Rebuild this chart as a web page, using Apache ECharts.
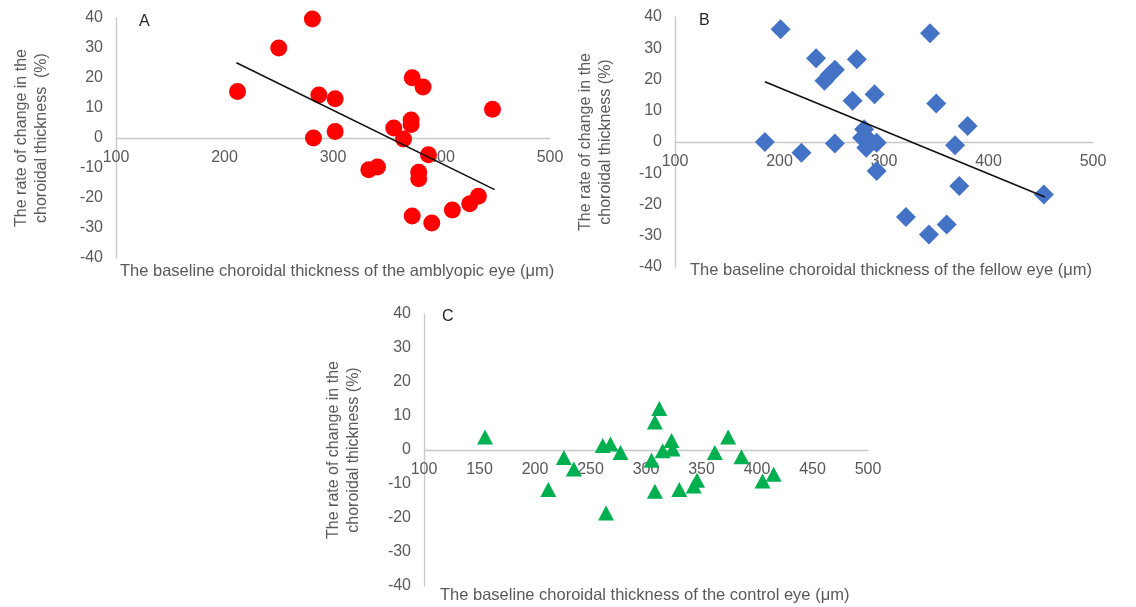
<!DOCTYPE html>
<html>
<head>
<meta charset="utf-8">
<script src="https://cdn.jsdelivr.net/npm/echarts@6/dist/echarts.min.js"></script>
<style>
html,body{margin:0;padding:0;background:#fff;}
#chart{width:1136px;height:607px;}
</style>
</head>
<body>
<div id="chart"></div>
<script>
// baseline thickness (um) vs rate of change (%)
var amblyopic = [
  [212,15.5],[250,30],[281,39.7],[282,0],[287,14.3],[302,13.1],[302,2.2],
  [333,-10.6],[341,-9.7],[356,3.3],[365,-0.3],[372,6],[372,4.5],[373,20.1],
  [383,17],[388,-5.6],[379,-11.4],[379,-13.6],[373,-26],[391,-28.3],
  [410,-24],[426,-21.9],[434,-19.4],[447,9.6]
];
var fellow = [
  [186,0],[201,36.1],[221,-3.4],[235,26.8],[243,19.6],[248,21.5],[253,23.1],
  [253,-0.5],[270,13.2],[274,26.5],[281,4.1],[279,1.4],[283,-1.8],[285,0.9],
  [291,15.3],[293,-0.2],[293,-9.3],[321,-24],[343,-29.6],[344,34.8],
  [350,12.3],[360,-26.4],[368,-1],[372,-14.1],[380,5.1],[453,-16.8]
];
var control = [
  [155,3.8],[212,-11.6],[226,-2.2],[235,-5.6],[261,1.3],[268,1.8],[277,-0.7],
  [264,-18.5],[305,-3],[308,8.2],[312,12.2],[308,-12.1],[315,-0.2],[323,2.8],
  [324,0.3],[330,-11.6],[343,-10.6],[346,-8.9],[362,-0.7],[374,3.8],
  [386,-2],[405,-9.1],[415,-7.1]
];
// linear trend lines (end points)
var amblyopicTrend = [[211,25.1],[449,-17.2]];
var fellowTrend = [[186,19.3],[454,-17.6]];

var yTitle = 'The rate of change in the\nchoroidal thickness  (%)';
var yTitleB = 'The rate of change in the\nchoroidal thickness (%)';
var font = 'Liberation Sans, Arial, sans-serif';

var grids = [
  {left:116, top:18, width:434, height:240},
  {left:675, top:17, width:418, height:250},
  {left:424, top:314, width:444, height:272}
];

var myChart = echarts.init(document.getElementById('chart'));

// x axis sits on y = 0, which is the middle of the -40..40 range
function xAx(grid, interval){
  return {
    gridIndex: grid, type:'value', min:100, max:500, interval:interval,
    position:'bottom', offset:-grids[grid].height/2,
    axisLine:{onZero:false, lineStyle:{color:'#c8c8c8', width:1.3}},
    axisTick:{show:false},
    splitLine:{show:false},
    axisLabel:{color:'#595959', fontSize:16, fontFamily:font, margin:12}
  };
}
function yAx(grid, name, gap){
  return {
    gridIndex: grid, type:'value', min:-40, max:40, interval:10,
    name:name, nameLocation:'middle', nameRotate:90, nameGap:gap,
    nameTextStyle:{color:'#595959', fontSize:16, fontFamily:font, lineHeight:20},
    axisLine:{show:true, onZero:false, lineStyle:{color:'#c8c8c8', width:1.3}},
    axisTick:{show:false},
    splitLine:{show:false},
    axisLabel:{color:'#595959', fontSize:16, fontFamily:font, margin:13}
  };
}
function txt(x, y, s){
  return {type:'text', left:x, top:y, style:{text:s, fill:'#595959', font:'16.5px ' + font}};
}

var option = {
  animation:false,
  grid:grids,
  xAxis:[xAx(0,100), xAx(1,100), xAx(2,50)],
  yAxis:[yAx(0,yTitle,64), yAx(1,yTitleB,59), yAx(2,yTitleB,60)],
  graphic:[
    txt(120, 263, 'The baseline choroidal thickness of the amblyopic eye (\u03bcm)'),
    txt(690, 262, 'The baseline choroidal thickness of the fellow eye (\u03bcm)'),
    txt(440, 587, 'The baseline choroidal thickness of the control eye (\u03bcm)'),
    {type:'text', left:139, top:14, style:{text:'A', fill:'#262626', font:'16px ' + font}},
    {type:'text', left:699, top:13, style:{text:'B', fill:'#262626', font:'16px ' + font}},
    {type:'text', left:442, top:309, style:{text:'C', fill:'#262626', font:'16px ' + font}}
  ],
  series:[
    {type:'scatter', xAxisIndex:0, yAxisIndex:0, data:amblyopic,
     symbol:'circle', symbolSize:17, itemStyle:{color:'#ff0000', opacity:1}},
    {type:'line', xAxisIndex:0, yAxisIndex:0, data:amblyopicTrend,
     showSymbol:false, lineStyle:{color:'#111', width:1.6}, z:3},
    {type:'scatter', xAxisIndex:1, yAxisIndex:1, data:fellow,
     symbol:'diamond', symbolSize:[20,20], itemStyle:{color:'#4472c4', opacity:1}},
    {type:'line', xAxisIndex:1, yAxisIndex:1, data:fellowTrend,
     showSymbol:false, lineStyle:{color:'#111', width:1.6}, z:3},
    {type:'scatter', xAxisIndex:2, yAxisIndex:2, data:control,
     symbol:'triangle', symbolSize:[16,15], itemStyle:{color:'#00b050', opacity:1}}
  ]
};
myChart.setOption(option);
</script>
</body>
</html>
